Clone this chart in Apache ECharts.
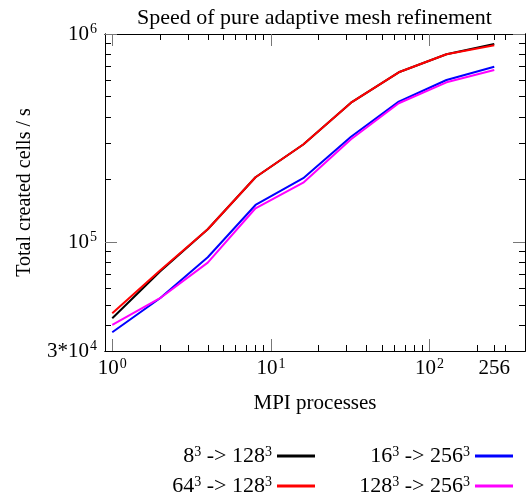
<!DOCTYPE html>
<html><head><meta charset="utf-8">
<script src="https://cdn.jsdelivr.net/npm/echarts@6/dist/echarts.min.js"></script>
<style>html,body{margin:0;padding:0;background:#fff}#c{width:530px;height:501px}</style>
</head><body><div id="c"></div>
<script>
// ---- data ----
const processes = [1, 2, 4, 8, 16, 32, 64, 128, 256];
const s8to128   = [43100, 72300, 115300, 205000, 294700, 467700, 654700, 798900, 895400];
const s16to256  = [36900, 53800, 84600, 150900, 202800, 321100, 473000, 601200, 696600];
const s64to128  = [45500, 73100, 115300, 205000, 294700, 467700, 654700, 798900, 882400];
const s128to256 = [40000, 53800, 79700, 145500, 193100, 312000, 464700, 586100, 671500];
const seriesNames  = ['8^3 -> 128^3', '16^3 -> 256^3', '64^3 -> 128^3', '128^3 -> 256^3'];
const seriesLegend = ['8{s|3} -> 128{s|3}', '16{s|3} -> 256{s|3}', '64{s|3} -> 128{s|3}', '128{s|3} -> 256{s|3}'];
const seriesColors = ['#000000', '#0000ff', '#ff0000', '#ff00ff'];
const seriesData = [s8to128, s16to256, s64to128, s128to256];

const xMin = 0.9, xMax = 400;
const yMin = 30000, yMax = 1000000;
const xMajorTicks = [1, 10, 100];
const xMinorTicks = [2, 3, 4, 5, 6, 7, 8, 9, 20, 30, 40, 50, 60, 70, 80, 90, 200, 256, 300];
const xTickLabels = [1, 10, 100, 256];
const yMajorTicks = [100000, 1000000];
const yMinorTicks = [40000, 50000, 60000, 70000, 80000, 90000, 200000, 300000, 400000, 500000, 600000, 700000, 800000, 900000];
const yTickLabels = [30000, 100000, 1000000];

const FONT = 'Liberation Serif';
const rich = {
  b: {fontFamily: FONT, fontSize: 21, color: '#000', lineHeight: 23},
  s: {fontFamily: FONT, fontSize: 14, color: '#000', verticalAlign: 'top', lineHeight: 14, padding: [0, 0, 0, 1]}
};
function fmtPow(v) {
  const e = Math.round(Math.log10(v));
  if (Math.abs(v - Math.pow(10, e)) < 1e-6 * v) return '{b|10}{s|' + e + '}';
  const m = Math.round(v / Math.pow(10, Math.floor(Math.log10(v))));
  if (m === 3 && Math.floor(Math.log10(v)) === 4) return '{b|3*10}{s|4}';
  return '{b|' + Math.round(v) + '}';
}
function fmtX(v) {
  if (Math.abs(v - 256) < 1e-6) return '{b|256}';
  return fmtPow(v);
}

function axis(kind, pos, ticks, len, color, opts) {
  const a = {
    type: 'log', logBase: 10, position: pos,
    min: kind === 'x' ? xMin : yMin, max: kind === 'x' ? xMax : yMax,
    axisLine: {show: true, lineStyle: {color: '#000', width: 1}},
    axisTick: {show: true, inside: true, length: len, customValues: ticks, lineStyle: {color: color, width: 1}},
    axisLabel: {show: false},
    splitLine: {show: false}, minorTick: {show: false}, minorSplitLine: {show: false}
  };
  return Object.assign(a, opts || {});
}

const xAxes = [
  axis('x', 'bottom', xMajorTicks, 12, '#777', {
    axisLabel: {show: true, customValues: xTickLabels, formatter: fmtX, margin: 6, rich: rich},
    name: 'MPI processes', nameLocation: 'middle', nameGap: 42,
    nameTextStyle: {fontFamily: FONT, fontSize: 21, color: '#000'}
  }),
  axis('x', 'bottom', xMinorTicks, 6, '#000'),
  axis('x', 'top', xMajorTicks, 12, '#777'),
  axis('x', 'top', xMinorTicks, 6, '#000')
];
const yAxes = [
  axis('y', 'left', yMajorTicks, 12, '#777', {
    axisLabel: {show: true, customValues: yTickLabels, formatter: fmtPow, margin: 8, rich: rich},
    name: 'Total created cells / s', nameLocation: 'middle', nameGap: 70,
    nameTextStyle: {fontFamily: FONT, fontSize: 20, color: '#000'}
  }),
  axis('y', 'left', yMinorTicks, 6, '#000'),
  axis('y', 'right', yMajorTicks, 12, '#777'),
  axis('y', 'right', yMinorTicks, 6, '#000')
];

const legendRight = [215, 17, 215, 17];
const legendTop = [445, 445, 475, 475];
const legends = seriesNames.map((n, i) => ({
  data: [n], right: legendRight[i], top: legendTop[i], align: 'right', orient: 'horizontal',
  icon: 'rect', itemWidth: 38, itemHeight: 3, padding: 0, selectedMode: false,
  formatter: () => seriesLegend[i].replace(/(^|\})([^{}]+?)(?=\{|$)/g, (m, p, t) => p + '{b|' + t + '}'),
  textStyle: {fontFamily: FONT, fontSize: 22, color: '#000', rich: {
    b: {fontFamily: FONT, fontSize: 22, color: '#000', lineHeight: 22},
    s: {fontFamily: FONT, fontSize: 14, color: '#000', verticalAlign: 'top', lineHeight: 14}
  }}
}));

const series = seriesNames.map((n, i) => ({
  name: n, type: 'line', xAxisIndex: 0, yAxisIndex: 0,
  data: processes.map((p, k) => [p, seriesData[i][k]]),
  showSymbol: false, symbol: 'none', lineStyle: {color: seriesColors[i], width: 2},
  itemStyle: {color: seriesColors[i]}, z: 3 + i
}));

const chart = echarts.init(document.getElementById('c'), null, {renderer: 'canvas'});
chart.setOption({
  animation: false,
  backgroundColor: '#fff',
  title: {text: 'Speed of pure adaptive mesh refinement', left: 132, top: 2,
    textStyle: {fontFamily: FONT, fontSize: 22, fontWeight: 'normal', color: '#000'}},
  grid: {left: 105, right: 5, top: 34, bottom: 150, containLabel: false},
  xAxis: xAxes, yAxis: yAxes, legend: legends, series: series
});
</script></body></html>
